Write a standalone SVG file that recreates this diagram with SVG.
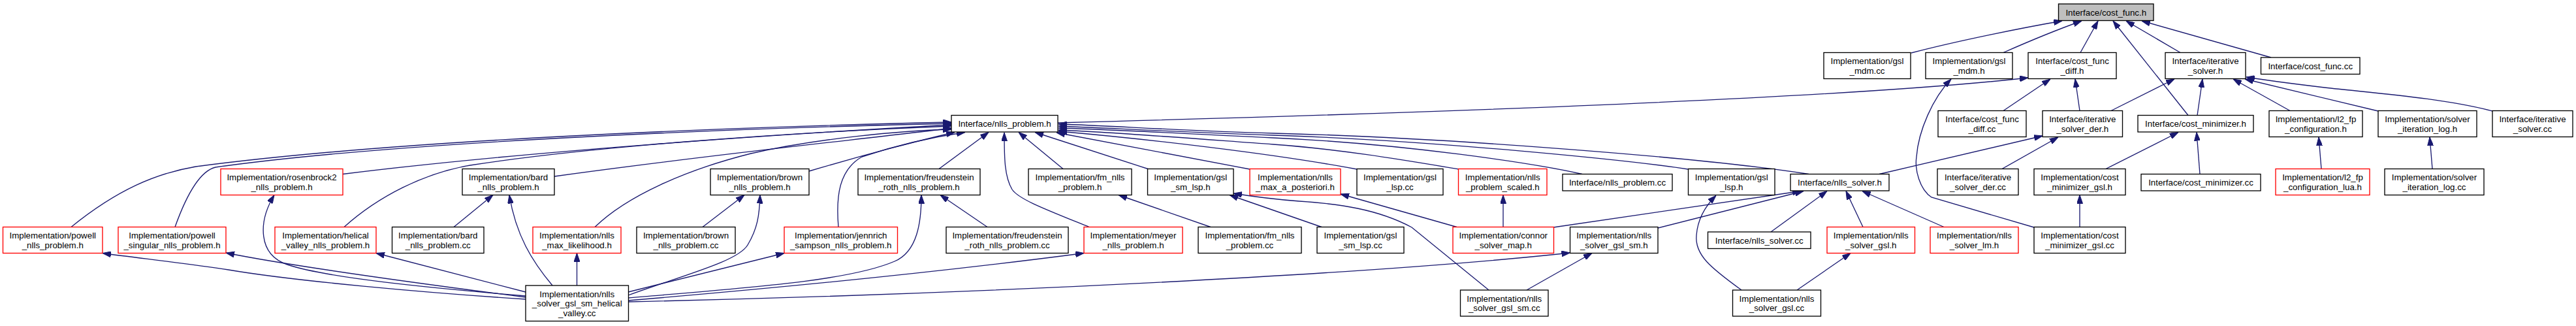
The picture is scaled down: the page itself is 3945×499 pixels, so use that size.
<svg xmlns="http://www.w3.org/2000/svg" width="3945" height="499" viewBox="0 0 3945 499">
<style>
.n rect{fill:#fff;stroke:#000;stroke-width:1.33}
.r rect{stroke:#f00}
.g rect{fill:#bfbfbf}
text{font-family:"Liberation Sans",Arial,Helvetica,sans-serif;font-size:13.33px;text-anchor:middle;fill:#000}
#edges path{fill:none;stroke:#191970;stroke-width:1.33;marker-end:url(#a)}
</style>
<defs>
<marker id="a" viewBox="0 0 13 9" refX="13" refY="4.5" markerWidth="13" markerHeight="9" markerUnits="userSpaceOnUse" orient="auto">
<path d="M0,0 L13,4.5 L0,9 z" fill="#191970" stroke="#191970" stroke-width="1"/>
</marker>
</defs>
<rect width="3945" height="499" fill="#fff"/>
<g id="edges">
<path d="M2927,81 C3000,62 3100,42 3158,32"/>
<path d="M3068,80.5 C3110,62 3160,42 3188,32"/>
<path d="M3186,80.5 L3213,32"/>
<path d="M3351,176.5 L3236,32"/>
<path d="M3339,80.5 L3256,32"/>
<path d="M3478,88 L3280,32"/>
<path d="M1620,188 C2300,170 2850,148 3106,119"/>
<path d="M3068,169.5 L3140,121"/>
<path d="M3185,169.5 L3178,121"/>
<path d="M3115,348 L2958,302 C2940,290 2932,260 2935,240 C2938,200 2960,150 2988,121"/>
<path d="M3233,169.5 L3330,121"/>
<path d="M3365,176.5 L3373,121"/>
<path d="M3507,169.5 L3420,121"/>
<path d="M3642,170 L3438,121"/>
<path d="M3817,170 C3740,150 3640,143 3560,134 C3510,128 3470,123 3440,118"/>
<path d="M2878,266.5 L3128,208"/>
<path d="M3066,258.5 L3152,210"/>
<path d="M3225,258.5 L3336,202.5"/>
<path d="M3369,266.5 L3364,202.5"/>
<path d="M3555,258.5 L3551,210"/>
<path d="M3725,258.5 L3721,210"/>
<path d="M3185,347.5 L3185,298.5"/>
<path d="M2712,355 L2798,292.5"/>
<path d="M2853,347.5 L2827,292.5"/>
<path d="M2977,347.5 L2852,292.5"/>
<path d="M2539,349 L2762,292.5"/>
<path d="M2379,348 L2758,292.5"/>
<path d="M2770,266.5 C2600,240 2200,210 1950,204 C1800,200 1700,192 1621,190"/>
<path d="M2585,259 C2500,246 2200,215 1950,207 C1800,202 1700,196 1621,193"/>
<path d="M2423,266.5 C2350,250 2150,220 1950,211 C1800,204 1700,198 1621,196"/>
<path d="M2234,259 C2150,245 2050,228 1950,221 C1800,210 1700,202 1621,199"/>
<path d="M2078,259 C1950,235 1750,212 1621,201"/>
<path d="M1914,259 L1618,203"/>
<path d="M1758,258.5 L1585,202.5"/>
<path d="M1628,258.5 L1560,202.5"/>
<path d="M1668,347.5 C1600,320 1560,305 1550,290 C1538,270 1538,240 1538,203"/>
<path d="M1438,258.5 L1514,202.5"/>
<path d="M109,347.5 C180,290 240,265 300,255 C600,215 1100,195 1457,187"/>
<path d="M268,347.5 C285,300 305,262 330,256 C600,218 1100,197 1457,189"/>
<path d="M525,266.5 C800,232 1200,205 1457,191"/>
<path d="M527,347.5 C580,300 650,265 720,253 C900,225 1200,203 1457,193"/>
<path d="M849,270 C1100,235 1350,210 1457,196"/>
<path d="M911,347.5 C960,300 1050,260 1150,235 C1250,212 1380,200 1457,198"/>
<path d="M1239,262 C1330,235 1420,212 1462,202.5"/>
<path d="M1284,347.5 C1280,300 1285,260 1320,240 C1380,220 1440,208 1478,202.5"/>
<path d="M805,458 C650,448 450,430 350,413 C280,402 210,395 157,387.5"/>
<path d="M805,455 C650,435 450,408 346,387"/>
<path d="M805,453 C650,440 500,425 440,405 C395,390 395,340 420,298.5"/>
<path d="M805,447 L576,387.5"/>
<path d="M846,437 C815,400 790,360 780,298.5"/>
<path d="M883.5,437 L883.5,387.5"/>
<path d="M962,452 C1050,420 1130,400 1145,375 C1160,350 1163,330 1164,298.5"/>
<path d="M962,447 L1201,387.5"/>
<path d="M962,456 C1150,440 1300,430 1370,400 C1405,385 1411,340 1411,298.5"/>
<path d="M962,460 C1200,440 1450,415 1660,387.5"/>
<path d="M962,462 C1500,450 2100,420 2404.5,387"/>
<path d="M695,347.5 L755,298.5"/>
<path d="M1076,347.5 L1140,298.5"/>
<path d="M1512,347.5 L1440,298.5"/>
<path d="M1854,347.5 L1713,298.5"/>
<path d="M2024,347.5 L1883,298.5"/>
<path d="M2280,444 L2162,348 C2110,320 2050,312 1990,308 C1950,305 1920,301 1889,296"/>
<path d="M2231,347.5 L2053,297"/>
<path d="M2302,347.5 L2302,298.5"/>
<path d="M2338,444 L2438,387.5"/>
<path d="M2667,444 C2620,410 2595,390 2598,360 C2600,335 2612,315 2628,299.3"/>
<path d="M2752,444 L2834,387.5"/>
</g>
<g id="n0" class="n g"><rect x="3152.5" y="6" width="145.5" height="25.5"/><text x="3225.25" y="23.5">Interface/cost_func.h</text></g>
<g id="n1" class="n"><rect x="2793" y="80.5" width="133" height="40"/><text x="2859.5" y="98">Implementation/gsl</text><text x="2859.5" y="112.5">_mdm.cc</text></g>
<g id="n2" class="n"><rect x="2949" y="80.5" width="133" height="40"/><text x="3015.5" y="98">Implementation/gsl</text><text x="3015.5" y="112.5">_mdm.h</text></g>
<g id="n3" class="n"><rect x="3106" y="80.5" width="135" height="40"/><text x="3173.5" y="98">Interface/cost_func</text><text x="3173.5" y="112.5">_diff.h</text></g>
<g id="n4" class="n"><rect x="3316" y="80.5" width="123" height="40"/><text x="3377.5" y="98">Interface/iterative</text><text x="3377.5" y="112.5">_solver.h</text></g>
<g id="n5" class="n"><rect x="3462.5" y="88" width="151.5" height="25.5"/><text x="3538.25" y="105.5">Interface/cost_func.cc</text></g>
<g id="n6" class="n"><rect x="1457" y="176.5" width="163" height="25.5"/><text x="1538.5" y="194">Interface/nlls_problem.h</text></g>
<g id="n7" class="n"><rect x="2968" y="169.5" width="135" height="40"/><text x="3035.5" y="187">Interface/cost_func</text><text x="3035.5" y="201.5">_diff.cc</text></g>
<g id="n8" class="n"><rect x="3128" y="169.5" width="122.5" height="40"/><text x="3189.25" y="187">Interface/iterative</text><text x="3189.25" y="201.5">_solver_der.h</text></g>
<g id="n9" class="n"><rect x="3274" y="176.5" width="177" height="25.5"/><text x="3362.5" y="194">Interface/cost_minimizer.h</text></g>
<g id="n10" class="n"><rect x="3475" y="169.5" width="143" height="40"/><text x="3546.5" y="187">Implementation/l2_fp</text><text x="3546.5" y="201.5">_configuration.h</text></g>
<g id="n11" class="n"><rect x="3642" y="169.5" width="151" height="40"/><text x="3717.5" y="187">Implementation/solver</text><text x="3717.5" y="201.5">_iteration_log.h</text></g>
<g id="n12" class="n"><rect x="3817" y="169.5" width="123" height="40"/><text x="3878.5" y="187">Interface/iterative</text><text x="3878.5" y="201.5">_solver.cc</text></g>
<g id="n13" class="n r"><rect x="338" y="258.5" width="187" height="40"/><text x="431.5" y="276">Implementation/rosenbrock2</text><text x="431.5" y="290.5">_nlls_problem.h</text></g>
<g id="n14" class="n"><rect x="708" y="258.5" width="141" height="40"/><text x="778.5" y="276">Implementation/bard</text><text x="778.5" y="290.5">_nlls_problem.h</text></g>
<g id="n15" class="n"><rect x="1088" y="258.5" width="151" height="40"/><text x="1163.5" y="276">Implementation/brown</text><text x="1163.5" y="290.5">_nlls_problem.h</text></g>
<g id="n16" class="n"><rect x="1314" y="258.5" width="187" height="40"/><text x="1407.5" y="276">Implementation/freudenstein</text><text x="1407.5" y="290.5">_roth_nlls_problem.h</text></g>
<g id="n17" class="n"><rect x="1575" y="258.5" width="158" height="40"/><text x="1654" y="276">Implementation/fm_nlls</text><text x="1654" y="290.5">_problem.h</text></g>
<g id="n18" class="n"><rect x="1757.5" y="258.5" width="131.5" height="40"/><text x="1823.25" y="276">Implementation/gsl</text><text x="1823.25" y="290.5">_sm_lsp.h</text></g>
<g id="n19" class="n r"><rect x="1914" y="258.5" width="139" height="40"/><text x="1983.5" y="276">Implementation/nlls</text><text x="1983.5" y="290.5">_max_a_posteriori.h</text></g>
<g id="n20" class="n"><rect x="2078" y="258.5" width="132" height="40"/><text x="2144" y="276">Implementation/gsl</text><text x="2144" y="290.5">_lsp.cc</text></g>
<g id="n21" class="n r"><rect x="2233.5" y="258.5" width="135.5" height="40"/><text x="2301.25" y="276">Implementation/nlls</text><text x="2301.25" y="290.5">_problem_scaled.h</text></g>
<g id="n22" class="n"><rect x="2393" y="266.5" width="168" height="25.5"/><text x="2477" y="284">Interface/nlls_problem.cc</text></g>
<g id="n23" class="n"><rect x="2585.5" y="258.5" width="132.5" height="40"/><text x="2651.75" y="276">Implementation/gsl</text><text x="2651.75" y="290.5">_lsp.h</text></g>
<g id="n24" class="n"><rect x="2742" y="266.5" width="151" height="25.5"/><text x="2817.5" y="284">Interface/nlls_solver.h</text></g>
<g id="n25" class="n"><rect x="2967" y="258.5" width="124" height="40"/><text x="3029" y="276">Interface/iterative</text><text x="3029" y="290.5">_solver_der.cc</text></g>
<g id="n26" class="n"><rect x="3115" y="258.5" width="140" height="40"/><text x="3185" y="276">Implementation/cost</text><text x="3185" y="290.5">_minimizer_gsl.h</text></g>
<g id="n27" class="n"><rect x="3279" y="266.5" width="183" height="25.5"/><text x="3370.5" y="284">Interface/cost_minimizer.cc</text></g>
<g id="n28" class="n r"><rect x="3485" y="258.5" width="144" height="40"/><text x="3557" y="276">Implementation/l2_fp</text><text x="3557" y="290.5">_configuration_lua.h</text></g>
<g id="n29" class="n"><rect x="3652" y="258.5" width="152" height="40"/><text x="3728" y="276">Implementation/solver</text><text x="3728" y="290.5">_iteration_log.cc</text></g>
<g id="n30" class="n r"><rect x="4.5" y="347.5" width="152.5" height="40"/><text x="80.75" y="365">Implementation/powell</text><text x="80.75" y="379.5">_nlls_problem.h</text></g>
<g id="n31" class="n r"><rect x="181" y="347.5" width="165" height="40"/><text x="263.5" y="365">Implementation/powell</text><text x="263.5" y="379.5">_singular_nlls_problem.h</text></g>
<g id="n32" class="n r"><rect x="421" y="347.5" width="155" height="40"/><text x="498.5" y="365">Implementation/helical</text><text x="498.5" y="379.5">_valley_nlls_problem.h</text></g>
<g id="n33" class="n"><rect x="600.5" y="347.5" width="140.5" height="40"/><text x="670.75" y="365">Implementation/bard</text><text x="670.75" y="379.5">_nlls_problem.cc</text></g>
<g id="n34" class="n r"><rect x="816" y="347.5" width="135" height="40"/><text x="883.5" y="365">Implementation/nlls</text><text x="883.5" y="379.5">_max_likelihood.h</text></g>
<g id="n35" class="n"><rect x="975" y="347.5" width="151" height="40"/><text x="1050.5" y="365">Implementation/brown</text><text x="1050.5" y="379.5">_nlls_problem.cc</text></g>
<g id="n36" class="n r"><rect x="1201" y="347.5" width="173.5" height="40"/><text x="1287.75" y="365">Implementation/jennrich</text><text x="1287.75" y="379.5">_sampson_nlls_problem.h</text></g>
<g id="n37" class="n"><rect x="1449" y="347.5" width="187" height="40"/><text x="1542.5" y="365">Implementation/freudenstein</text><text x="1542.5" y="379.5">_roth_nlls_problem.cc</text></g>
<g id="n38" class="n r"><rect x="1660" y="347.5" width="151" height="40"/><text x="1735.5" y="365">Implementation/meyer</text><text x="1735.5" y="379.5">_nlls_problem.h</text></g>
<g id="n39" class="n"><rect x="1835" y="347.5" width="158" height="40"/><text x="1914" y="365">Implementation/fm_nlls</text><text x="1914" y="379.5">_problem.cc</text></g>
<g id="n40" class="n"><rect x="2017" y="347.5" width="133" height="40"/><text x="2083.5" y="365">Implementation/gsl</text><text x="2083.5" y="379.5">_sm_lsp.cc</text></g>
<g id="n41" class="n r"><rect x="2225" y="347.5" width="154.5" height="40"/><text x="2302.25" y="365">Implementation/connor</text><text x="2302.25" y="379.5">_solver_map.h</text></g>
<g id="n42" class="n"><rect x="2404.5" y="347.5" width="134.5" height="40"/><text x="2471.75" y="365">Implementation/nlls</text><text x="2471.75" y="379.5">_solver_gsl_sm.h</text></g>
<g id="n43" class="n"><rect x="2615.5" y="355" width="157.5" height="25.5"/><text x="2694.25" y="372.5">Interface/nlls_solver.cc</text></g>
<g id="n44" class="n r"><rect x="2798" y="347.5" width="134.5" height="40"/><text x="2865.25" y="365">Implementation/nlls</text><text x="2865.25" y="379.5">_solver_gsl.h</text></g>
<g id="n45" class="n r"><rect x="2956" y="347.5" width="135" height="40"/><text x="3023.5" y="365">Implementation/nlls</text><text x="3023.5" y="379.5">_solver_lm.h</text></g>
<g id="n46" class="n"><rect x="3115" y="347.5" width="140" height="40"/><text x="3185" y="365">Implementation/cost</text><text x="3185" y="379.5">_minimizer_gsl.cc</text></g>
<g id="n47" class="n"><rect x="805" y="437" width="157.5" height="54.5"/><text x="883.75" y="454.5">Implementation/nlls</text><text x="883.75" y="469">_solver_gsl_sm_helical</text><text x="883.75" y="483.5">_valley.cc</text></g>
<g id="n48" class="n"><rect x="2236.5" y="444" width="134.5" height="40"/><text x="2303.75" y="461.5">Implementation/nlls</text><text x="2303.75" y="476">_solver_gsl_sm.cc</text></g>
<g id="n49" class="n"><rect x="2653.5" y="444" width="135" height="40"/><text x="2721" y="461.5">Implementation/nlls</text><text x="2721" y="476">_solver_gsl.cc</text></g>
</svg>
